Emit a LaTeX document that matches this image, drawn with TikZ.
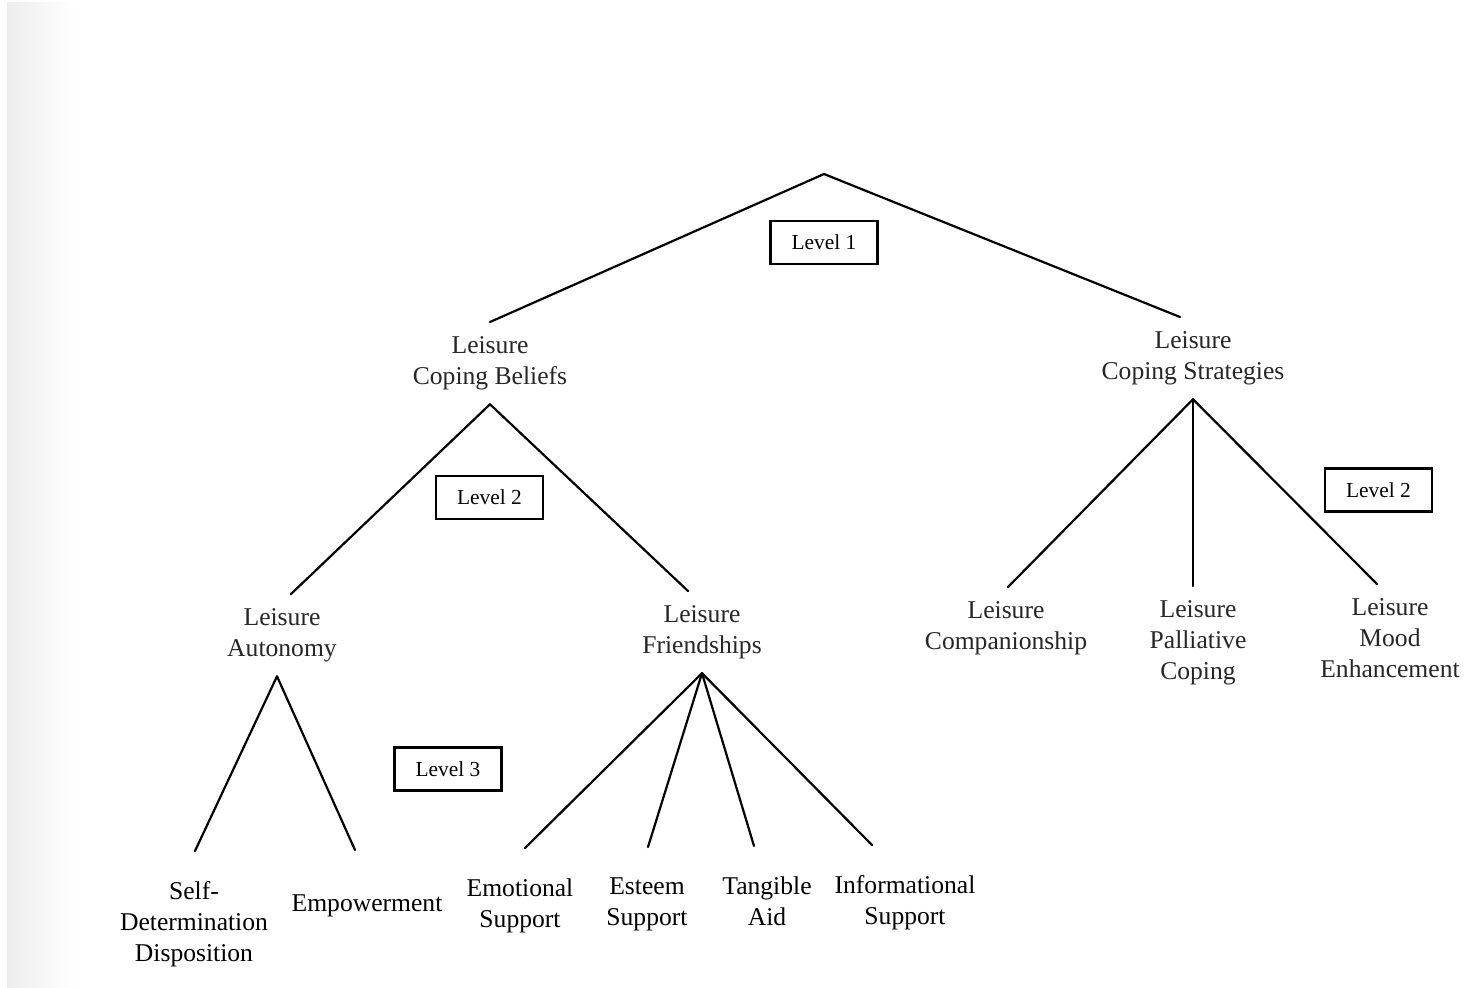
\documentclass[tikz,border=0pt]{standalone}
\usepackage{fontspec}
\setmainfont{Liberation Serif}
\begin{document}
\begin{tikzpicture}[x=0.5pt,y=-0.5pt]
    \useasboundingbox (0,0) rectangle (1469,987);

    \tikzstyle{term}=[align=center,anchor=north,inner xsep=0pt,inner ysep=7pt,text=black!85,font=\fontsize{12.8}{15.5}\selectfont]
    \tikzstyle{leafterm}=[term,inner ysep=15pt,text=black]
    \tikzstyle{levelbox}=[draw=black,line width=1.4pt,minimum width=53.5pt,minimum height=21.5pt,inner sep=0pt,font=\fontsize{10.7}{12}\selectfont]
    \tikzstyle{branch}=[draw=black,line width=1.1pt,line cap=round]

    % scanned page edge
    \shade[left color=black!7, right color=white] (7,2) rectangle (75,987);

    \coordinate (root) at (824,174);

    \node[term] (lcb) at (490,322) {Leisure\\Coping Beliefs};
    \node[term] (lcs) at (1193,317) {Leisure\\Coping Strategies};

    \node[term] (la) at (282,594) {Leisure\\Autonomy};
    \node[term] (lf) at (702,591) {Leisure\\Friendships};
    \node[term] (lcomp) at (1006,587) {Leisure\\Companionship};
    \node[term] (lpal) at (1198,586) {Leisure\\Palliative\\Coping};
    \node[term] (lmood) at (1390,584) {Leisure\\Mood\\Enhancement};

    \node[leafterm] (sdd) at (194,851) {Self-\\Determination\\Disposition};
    \node[leafterm,inner ysep=22pt] (emp) at (367,850) {Empowerment};
    \node[leafterm] (emo) at (520,848) {Emotional\\Support};
    \node[leafterm] (est) at (647,847) {Esteem\\Support};
    \node[leafterm] (tan) at (767,846) {Tangible\\Aid};
    \node[leafterm] (inf) at (905,845) {Informational\\Support};

    \node[levelbox] (lev1) at (824,242.5) {Level 1};
    \node[levelbox] (lev2a) at (489.5,497.5) {Level 2};
    \node[levelbox] (lev2b) at (1378.5,490) {Level 2};
    \node[levelbox] (lev3) at (448,769) {Level 3};

    \draw [branch] (root) -- (lcb.north);
    \draw [branch] (root) -- ([xshift=-6.5pt]lcs.north);

    \draw [branch] (lcb.south) -- ([xshift=4.5pt]la.north);
    \draw [branch] (lcb.south) -- ([xshift=-7pt]lf.north);

    \draw [branch] (lcs.south) -- ([xshift=1pt]lcomp.north);
    \draw [branch] (lcs.south) -- ([xshift=-2.5pt]lpal.north);
    \draw [branch] (lcs.south) -- ([xshift=-6.5pt]lmood.north);

    \draw [branch] ([xshift=-2.5pt]la.south) -- ([xshift=0.5pt]sdd.north);
    \draw [branch] ([xshift=-2.5pt]la.south) -- ([xshift=-6pt]emp.north);

    \draw [branch] (lf.south) -- ([xshift=2.5pt]emo.north);
    \draw [branch] (lf.south) -- ([xshift=0.5pt]est.north);
    \draw [branch] (lf.south) -- ([xshift=-6.5pt]tan.north);
    \draw [branch] (lf.south) -- ([xshift=-16.5pt]inf.north);
\end{tikzpicture}
\end{document}
